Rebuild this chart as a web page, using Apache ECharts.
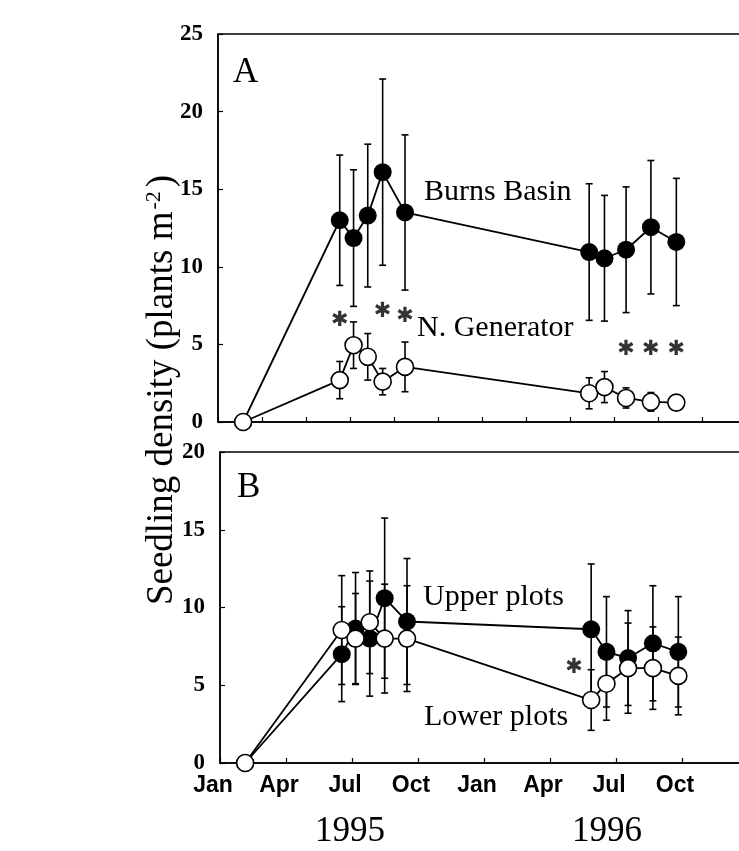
<!DOCTYPE html>
<html>
<head>
<meta charset="utf-8">
<script src="https://cdn.jsdelivr.net/npm/echarts@6/dist/echarts.min.js"></script>
<style>
  html, body { margin: 0; padding: 0; background: #fff; }
  #chart { width: 739px; height: 851px; }
</style>
</head>
<body>
<div id="chart"></div>
<script>
// ---------------- data ----------------
const sampleDates = ['1995-02-05', '1995-06-17', '1995-07-06', '1995-07-26', '1995-08-16', '1995-09-16',
                     '1996-05-28', '1996-06-18', '1996-07-18', '1996-08-22', '1996-09-26'];

// Panel A
const burnsMean = [0, 13.0, 11.85, 13.3, 16.1, 13.5, 10.95, 10.55, 11.1, 12.55, 11.6];
const burnsErr  = [0, 4.2, 4.4, 4.6, 6.0, 5.0, 4.4, 4.05, 4.05, 4.3, 4.1];
const genMean   = [0, 2.7, 4.95, 4.2, 2.6, 3.55, 1.85, 2.25, 1.55, 1.3, 1.25];
const genErr    = [0, 1.2, 1.5, 1.5, 0.85, 1.6, 1.0, 1.0, 0.65, 0.6, 0.3];

// Panel B
const upperMean = [0, 7.0, 8.65, 8.0, 10.6, 9.1, 8.6, 7.15, 6.75, 7.7, 7.15];
const upperErr  = [0, 3.05, 3.6, 3.7, 5.15, 4.05, 4.2, 3.55, 3.05, 3.7, 3.55];
const lowerMean = [0, 8.55, 8.0, 9.05, 8.0, 8.0, 4.05, 5.1, 6.1, 6.1, 5.6];
const lowerErr  = [0, 3.5, 2.9, 3.3, 3.5, 3.4, 1.95, 2.35, 2.9, 2.65, 2.5];

// significance asterisks (sample index, height)
const sigAIdx = [1, 4, 5, 8, 9, 10];
const sigAY   = [6.53, 7.09, 6.77, 4.64, 4.64, 4.64];
const sigBIdx = [6];
const sigBY   = [6.17];

// axis tick labels
const monthLabels = ['Jan', 'Apr', 'Jul', 'Oct'];
const yearLabels = ['1995', '1996'];
const yTicksA = [0, 25, 5];
const yTicksB = [0, 20, 5];

// ---------------- helpers ----------------
function monthsSince1995(s) {
  const [y, m, d] = s.split('-').map(Number);
  const dim = new Date(y, m, 0).getDate();
  return (y - 1995) * 12 + (m - 1) + (d - 1) / dim;
}
const xs = sampleDates.map(monthsSince1995);
const pts = (ys) => ys.map((v, i) => [xs[i], v]);
const errs = (ys, es) => ys.map((v, i) => [xs[i], v - es[i], v + es[i], es[i]]);

const SERIF = "'Liberation Serif', 'Times New Roman', serif";
const SANS = "'Liberation Sans', Arial, sans-serif";
const LW = 1.8;

function errRender(params, api) {
  if (api.value(3) <= 0) return null;
  const x = api.value(0);
  const lo = api.coord([x, api.value(1)]);
  const hi = api.coord([x, api.value(2)]);
  const w = 3.5;
  const st = { stroke: '#000', lineWidth: 1.6 };
  return {
    type: 'group',
    children: [
      { type: 'line', shape: { x1: lo[0], y1: lo[1], x2: hi[0], y2: hi[1] }, style: st },
      { type: 'line', shape: { x1: lo[0] - w, y1: lo[1], x2: lo[0] + w, y2: lo[1] }, style: st },
      { type: 'line', shape: { x1: hi[0] - w, y1: hi[1], x2: hi[0] + w, y2: hi[1] }, style: st }
    ]
  };
}

function errSeries(idx, ys, es) {
  return {
    type: 'custom', xAxisIndex: idx, yAxisIndex: idx, z: 1,
    renderItem: errRender, data: errs(ys, es), silent: true, clip: false
  };
}
function filledSeries(idx, ys) {
  return {
    type: 'line', xAxisIndex: idx, yAxisIndex: idx, z: 2,
    data: pts(ys), symbol: 'circle', symbolSize: 18,
    itemStyle: { color: '#000' }, lineStyle: { color: '#000', width: LW },
    animation: false
  };
}
function openSeries(idx, ys) {
  return {
    type: 'line', xAxisIndex: idx, yAxisIndex: idx, z: 3,
    data: pts(ys), symbol: 'circle', symbolSize: 17,
    itemStyle: { color: '#fff', borderColor: '#000', borderWidth: 1.6 },
    lineStyle: { color: '#000', width: LW },
    animation: false
  };
}
function sigSeries(idx, ids, ys, dx) {
  return {
    type: 'scatter', xAxisIndex: idx, yAxisIndex: idx, z: 4,
    data: ids.map((k, i) => [xs[k], ys[i]]),
    symbolSize: 1, itemStyle: { color: 'rgba(0,0,0,0)' },
    label: {
      show: true, position: 'inside', formatter: '\u2731', offset: [dx, 0],
      fontFamily: "'DejaVu Sans', sans-serif", fontSize: 21, color: '#000'
    },
    animation: false
  };
}

function yAxis(idx, t) {
  return {
    type: 'value', gridIndex: idx, min: t[0], max: t[1], interval: t[2],
    axisLine: { show: true, lineStyle: { color: '#000', width: 1.5 } },
    axisTick: { show: true, inside: true, length: 5, lineStyle: { color: '#000', width: 1.2 } },
    axisLabel: { fontFamily: SERIF, fontWeight: 'bold', fontSize: 23, color: '#000', margin: 15 },
    splitLine: { show: false }
  };
}

const option = {
  animation: false,
  backgroundColor: '#fff',
  grid: [
    { left: 218, top: 34, width: 594, height: 388, show: true, borderColor: '#000', borderWidth: 1.5, outerBoundsMode: 'none', containLabel: false },
    { left: 220, top: 452, width: 594, height: 311, show: true, borderColor: '#000', borderWidth: 1.5, outerBoundsMode: 'none', containLabel: false }
  ],
  xAxis: [
    {
      type: 'value', gridIndex: 0, min: 0, max: 27, interval: 2,
      axisLine: { show: true, lineStyle: { color: '#000', width: 1.5 } },
      axisTick: { show: true, inside: true, length: 5, lineStyle: { color: '#000', width: 1.2 } },
      axisLabel: { show: false },
      splitLine: { show: false }
    },
    {
      type: 'value', gridIndex: 1, min: 0, max: 27, interval: 3,
      axisLine: { show: true, lineStyle: { color: '#000', width: 1.5 } },
      axisTick: { show: true, inside: true, length: 5, lineStyle: { color: '#000', width: 1.2 } },
      axisLabel: {
        fontFamily: SANS, fontWeight: 'bold', fontSize: 23, color: '#000', margin: 11,
        padding: [0, 14, 0, 0],
        formatter: (v) => (v > 21 ? '' : monthLabels[Math.round(v / 3) % 4])
      },
      splitLine: { show: false }
    }
  ],
  yAxis: [yAxis(0, yTicksA), yAxis(1, yTicksB)],
  series: [
    errSeries(0, burnsMean, burnsErr),
    errSeries(0, genMean, genErr),
    filledSeries(0, burnsMean),
    openSeries(0, genMean),
    sigSeries(0, sigAIdx, sigAY, 0),
    errSeries(1, upperMean, upperErr),
    errSeries(1, lowerMean, lowerErr),
    filledSeries(1, upperMean),
    openSeries(1, lowerMean),
    sigSeries(1, sigBIdx, sigBY, -17)
  ],
  graphic: [
    { type: 'text', x: 233, y: 73, style: { text: 'A', font: `35px ${SERIF}`, fill: '#000', verticalAlign: 'middle' } },
    { type: 'text', x: 237, y: 488, style: { text: 'B', font: `35px ${SERIF}`, fill: '#000', verticalAlign: 'middle' } },
    { type: 'text', x: 424, y: 192, style: { text: 'Burns Basin', font: `30px ${SERIF}`, fill: '#000', verticalAlign: 'middle' } },
    { type: 'text', x: 417, y: 328, style: { text: 'N. Generator', font: `30px ${SERIF}`, fill: '#000', verticalAlign: 'middle' } },
    { type: 'text', x: 423, y: 597, style: { text: 'Upper plots', font: `30px ${SERIF}`, fill: '#000', verticalAlign: 'middle' } },
    { type: 'text', x: 424, y: 717, style: { text: 'Lower plots', font: `30px ${SERIF}`, fill: '#000', verticalAlign: 'middle' } },
    { type: 'text', x: 350, y: 832, style: { text: yearLabels[0], font: `35px ${SERIF}`, fill: '#000', align: 'center', verticalAlign: 'middle' } },
    { type: 'text', x: 607, y: 832, style: { text: yearLabels[1], font: `35px ${SERIF}`, fill: '#000', align: 'center', verticalAlign: 'middle' } },
    {
      type: 'text', x: 162, y: 390, rotation: Math.PI / 2,
      style: {
        text: 'Seedling density (plants m{sup|-2})',
        font: `37px ${SERIF}`, fill: '#000', align: 'center', verticalAlign: 'middle',
        rich: { sup: { fontSize: 22, fontFamily: SERIF, verticalAlign: 'top', padding: [0, 4, 0, 2] } }
      }
    }
  ]
};

const chart = echarts.init(document.getElementById('chart'), null, { renderer: 'canvas' });
chart.setOption(option);
</script>
</body>
</html>
